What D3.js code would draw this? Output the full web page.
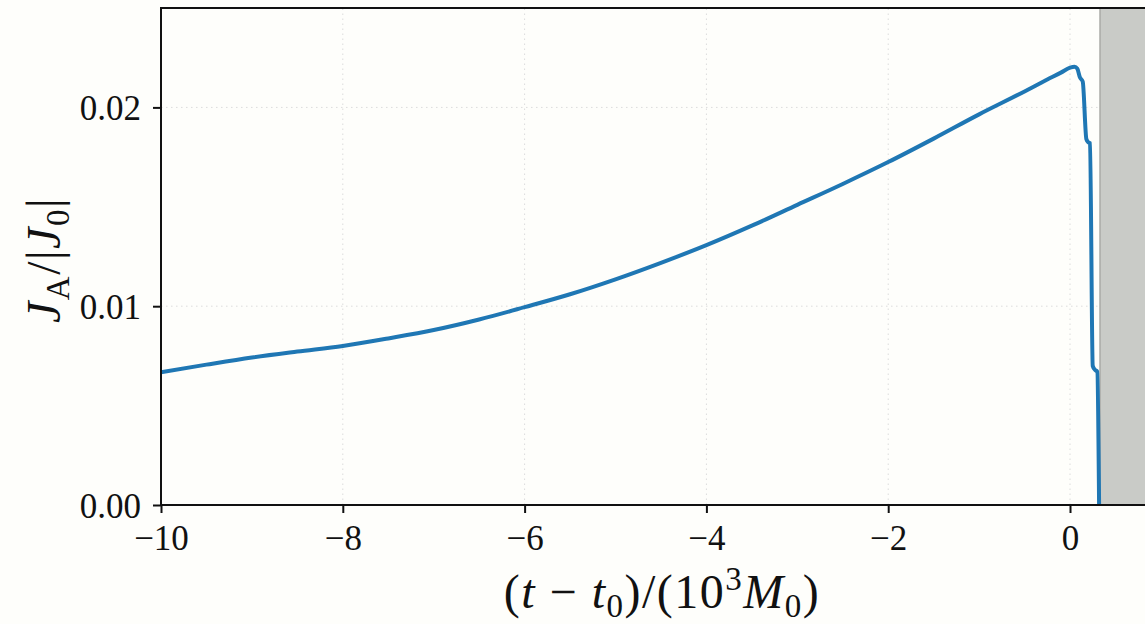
<!DOCTYPE html>
<html lang="en">
<head>
  <meta charset="UTF-8" />
  <title>J_A / |J_0|</title>
  <style>
    html, body {
      margin: 0;
      padding: 0;
      background: #fefefb;
    }
    svg text {
      font-family: "Liberation Serif", "DejaVu Serif", serif;
      fill: #111;
    }
  </style>
</head>
<body>
  <svg id="chart" width="1145" height="624"></svg>

  <script src="https://d3js.org/d3.v7.min.js"></script>
  <script>
    // time in units of 10^3 M0, relative to t0
    const times = [-10, -9.5, -9, -8.5, -8, -7.5, -7, -6.5, -6, -5.5, -5, -4.5, -4, -3.5,
      -3, -2.5, -2, -1.5, -1, -0.5, -0.25, -0.1, 0, 0.05, 0.08, 0.11, 0.14, 0.18, 0.2,
      0.22, 0.25, 0.275, 0.3, 0.32];
    const ja = [0.00668, 0.00706, 0.00742, 0.00772, 0.00800, 0.00838, 0.00880, 0.00933,
      0.00995, 0.01060, 0.01135, 0.01218, 0.01307, 0.01405, 0.01510, 0.01615, 0.01725,
      0.01843, 0.01965, 0.02080, 0.02140, 0.02175, 0.02200, 0.02205, 0.02195, 0.02150,
      0.02130, 0.01840, 0.01825, 0.01820, 0.00700, 0.00680, 0.00670, 0.0];

    const xTicks = [-10, -8, -6, -4, -2, 0];
    const yTicks = [0, 0.01, 0.02];
    const shadeStart = 0.33; // grey band after merger

    const svg = d3.select("#chart");
    const margin = { left: 161, right: 0, top: 8, bottom: 119 };
    const W = 1145, H = 624;

    const x = d3.scaleLinear().domain([-10, 0.825]).range([margin.left, W - margin.right]);
    const y = d3.scaleLinear().domain([0, 0.025]).range([H - margin.bottom, margin.top]);

    // grid
    const grid = svg.append("g").attr("stroke", "#dcdcdc").attr("stroke-width", 1)
      .attr("stroke-dasharray", "1.5,3.5");
    grid.selectAll(".gx").data(xTicks.slice(1)).join("line")
      .attr("x1", d => x(d)).attr("x2", d => x(d))
      .attr("y1", y(0)).attr("y2", y(0.025));
    grid.selectAll(".gy").data(yTicks.slice(1)).join("line")
      .attr("x1", x(-10)).attr("x2", W)
      .attr("y1", d => y(d)).attr("y2", d => y(d));

    // shaded region
    svg.append("rect")
      .attr("x", x(shadeStart)).attr("y", y(0.025))
      .attr("width", W - x(shadeStart)).attr("height", y(0) - y(0.025))
      .attr("fill", "#c9cbc7");
    svg.append("line")
      .attr("x1", x(shadeStart)).attr("x2", x(shadeStart))
      .attr("y1", y(0.025)).attr("y2", y(0))
      .attr("stroke", "#a9aba7").attr("stroke-width", 1.5);

    // curve
    const line = d3.line().x((d, i) => x(times[i])).y(d => y(d)).curve(d3.curveMonotoneX);
    svg.append("path")
      .datum(ja)
      .attr("d", line)
      .attr("fill", "none")
      .attr("stroke", "#1f77b4")
      .attr("stroke-width", 4)
      .attr("stroke-linejoin", "round");

    // axes
    const fmtX = d => (d < 0 ? "\u2212" + Math.abs(d) : String(d));
    const xAxis = svg.append("g")
      .attr("transform", `translate(0,${y(0)})`)
      .call(d3.axisBottom(x).tickValues(xTicks).tickFormat(fmtX).tickSize(8).tickPadding(11));
    const yAxis = svg.append("g")
      .attr("transform", `translate(${x(-10)},0)`)
      .call(d3.axisLeft(y).tickValues(yTicks).tickFormat(d3.format(".2f")).tickSize(8).tickPadding(12));

    [xAxis, yAxis].forEach(g => {
      g.select(".domain").remove();
      g.selectAll(".tick line").attr("stroke", "#111").attr("stroke-width", 2);
      g.selectAll(".tick text").style("font-size", "35px").attr("fill", "#111");
    });
    xAxis.selectAll(".tick text").attr("dy", "0.75em");
    yAxis.selectAll(".tick text").attr("dy", "0.35em");

    // spines
    const spine = svg.append("g").attr("stroke", "#111").attr("stroke-width", 2);
    spine.append("line").attr("x1", x(-10)).attr("x2", W).attr("y1", y(0)).attr("y2", y(0));
    spine.append("line").attr("x1", x(-10)).attr("x2", W).attr("y1", y(0.025)).attr("y2", y(0.025));
    spine.append("line").attr("x1", x(-10)).attr("x2", x(-10)).attr("y1", y(0) + 1).attr("y2", y(0.025) - 1);

    // x label
    const xl = svg.append("text")
      .attr("x", 662).attr("y", 608)
      .attr("text-anchor", "middle")
      .style("font-size", "48px")
      .style("letter-spacing", "1.5px");
    xl.append("tspan").text("(");
    xl.append("tspan").attr("font-style", "italic").text("t");
    xl.append("tspan").text(" \u2212 ");
    xl.append("tspan").attr("font-style", "italic").text("t");
    xl.append("tspan").attr("dy", 9).style("font-size", "33px").text("0");
    xl.append("tspan").attr("dy", -9).text(")/(10");
    xl.append("tspan").attr("dy", -18).style("font-size", "33px").text("3");
    xl.append("tspan").attr("dy", 18).attr("font-style", "italic").text("M");
    xl.append("tspan").attr("dy", 9).style("font-size", "33px").text("0");
    xl.append("tspan").attr("dy", -9).text(")");

    // y label
    const yl = svg.append("text")
      .attr("transform", "translate(60,260) rotate(-90)")
      .attr("text-anchor", "middle")
      .style("font-size", "48px")
      .style("letter-spacing", "1.5px");
    yl.append("tspan").attr("font-style", "italic").text("J");
    yl.append("tspan").attr("dy", 9).style("font-size", "33px").text("A");
    yl.append("tspan").attr("dy", -9).text("/|");
    yl.append("tspan").attr("font-style", "italic").text("J");
    yl.append("tspan").attr("dy", 9).style("font-size", "33px").text("0");
    yl.append("tspan").attr("dy", -9).text("|");
  </script>
</body>
</html>
